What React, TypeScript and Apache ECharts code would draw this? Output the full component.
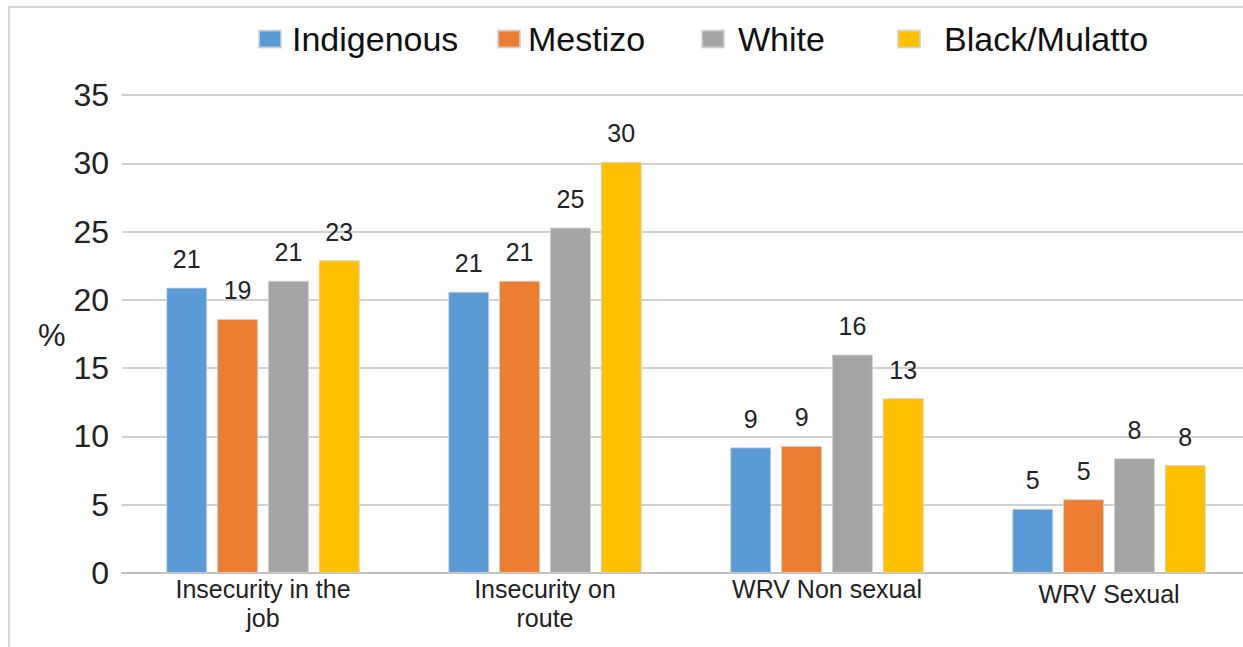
import React, { useEffect, useRef } from "react";
import * as echarts from "echarts";

const categories = ["Insecurity in the\njob", "Insecurity on\nroute", "WRV Non sexual", "WRV Sexual"];
const seriesNames = ["Indigenous", "Mestizo", "White", "Black/Mulatto"];
const indigenous = [20.9, 20.6, 9.2, 4.7];
const mestizo = [18.6, 21.4, 9.3, 5.4];
const white = [21.4, 25.3, 16.0, 8.4];
const blackMulatto = [22.9, 30.1, 12.8, 7.9];
const yTicks = [0, 5, 10, 15, 20, 25, 30, 35];

const colors = ["#5B9BD5", "#ED7D31", "#A5A5A5", "#FFC000"];
const FONT = "'Liberation Sans', Arial, sans-serif";

export default function App() {
  const ref = useRef<HTMLDivElement>(null);
  useEffect(() => {
    if (!ref.current) return;
    const chart = echarts.init(ref.current, null, { renderer: "svg" });
    const values = [indigenous, mestizo, white, blackMulatto];
    const legendLefts = [258, 497, 701, 897];
    const legendPads = [6, 3, 9, 19];
    chart.setOption({
      animation: false,
      backgroundColor: "#ffffff",
      color: colors,
      graphic: [
        {
          type: "rect",
          shape: { x: 9, y: 7, width: 1300, height: 700 },
          style: { fill: "none", stroke: "#d9d9d9", lineWidth: 2 },
          z: -1,
        },
        {
          type: "text",
          left: 38,
          top: 320,
          style: { text: "%", font: `31px ${FONT}`, fill: "#222" },
        },
      ],
      legend: seriesNames.map((n, i) => ({
        data: [n],
        left: legendLefts[i],
        top: 22,
        padding: 0,
        itemWidth: 22,
        itemHeight: 17,
        icon: "rect",
        textStyle: { fontFamily: FONT, fontSize: 34, color: "#111", padding: [0, 0, 0, legendPads[i]] },
      })),
      grid: { left: 122, width: 1128, top: 95, bottom: 74, containLabel: false },
      xAxis: {
        type: "category",
        data: categories,
        axisTick: { show: false },
        axisLine: { lineStyle: { color: "#bfbfbf", width: 2 } },
        axisLabel: {
          fontFamily: FONT,
          fontSize: 25,
          color: "#222",
          lineHeight: 29,
          margin: 1,
          formatter: (v: string) => (v === "WRV Sexual" ? `{low|${v}}` : v),
          rich: { low: { fontFamily: FONT, fontSize: 25, color: "#222", padding: [10, 0, 0, 0] } },
        },
      },
      yAxis: {
        type: "value",
        min: yTicks[0],
        max: yTicks[yTicks.length - 1],
        interval: 5,
        axisLine: { show: false },
        axisTick: { show: false },
        axisLabel: { fontFamily: FONT, fontSize: 32, color: "#222", margin: 13 },
        splitLine: { lineStyle: { color: "#d0d0d0", width: 2 } },
      },
      series: seriesNames.map((n, i) => ({
        name: n,
        type: "bar",
        data: values[i],
        barWidth: 41,
        barGap: "24%",
        itemStyle: { color: colors[i], borderColor: "rgba(210,210,210,0.8)", borderWidth: 1 },
        label: {
          show: true,
          position: "top",
          distance: 16,
          fontFamily: FONT,
          fontSize: 25,
          color: "#222",
          formatter: (p: any) => String(Math.round(p.value)),
        },
      })),
    });
    return () => chart.dispose();
  }, []);
  return (
    <div style={{ position: "fixed", left: 0, top: 0, width: 1243, height: 647, overflow: "hidden" }}>
      <div ref={ref} style={{ width: 1262, height: 647 }} />
    </div>
  );
}
